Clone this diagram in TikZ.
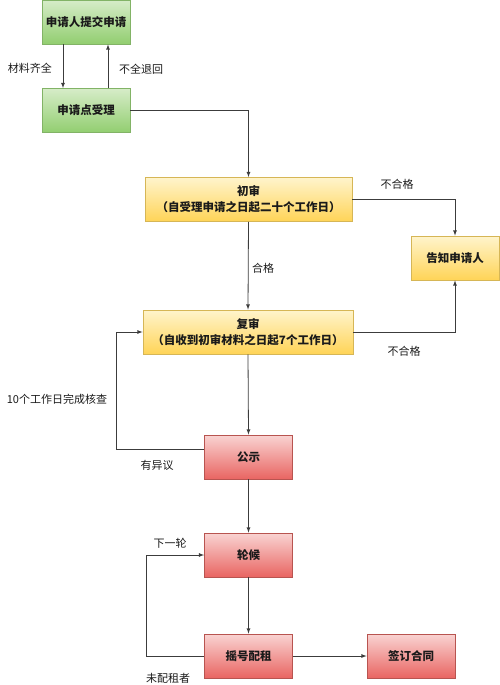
\documentclass[tikz,border=0pt]{standalone}
\usepackage{fontspec}
\setmainfont{Noto Sans CJK SC}
\usetikzlibrary{arrows, positioning}
\definecolor{linegray}{HTML}{3C3C3C}
\definecolor{txt}{HTML}{1A1A1A}
\definecolor{greentop}{HTML}{D6ECC8}
\definecolor{greenbot}{HTML}{92CE70}
\definecolor{greenline}{HTML}{82B366}
\definecolor{yellowtop}{HTML}{FFF4CC}
\definecolor{yellowbot}{HTML}{FFD457}
\definecolor{yellowline}{HTML}{D6B656}
\definecolor{redtop}{HTML}{F9D3D2}
\definecolor{redbot}{HTML}{E96562}
\definecolor{redline}{HTML}{B85450}
\tikzset{
  box/.style={draw, line width=0.8pt, minimum width=88pt, minimum height=44pt,
    inner sep=1pt, align=center, text=txt,
    font=\fontsize{11.5}{16}\selectfont\bfseries},
  greenbox/.style={box, draw=greenline, top color=greentop, bottom color=greenbot},
  yellowbox/.style={box, draw=yellowline, top color=yellowtop, bottom color=yellowbot},
  redbox/.style={box, draw=redline, top color=redtop, bottom color=redbot},
  flow/.style={->, >=latex, draw=linegray, line width=0.8pt},
  tag/.style={text=txt, font=\fontsize{11}{13}\selectfont}
}

\begin{document}
\begin{tikzpicture}[x=1pt, y=-1pt]
\useasboundingbox (0,0) rectangle (500,685);

% Application (green boxes)
\node[greenbox] (apply) at (86,22) {申请人提交申请};
\node[greenbox] (accept) at (86,110.5) {申请点受理};

% Review (yellow boxes)
\node[yellowbox, minimum width=207pt] (first) at (248.5,199.5) {初审\\（自受理申请之日起二十个工作日）};
\node[yellowbox] (notify) at (455,258) {告知申请人};
\node[yellowbox, minimum width=210pt] (second) at (248,332) {复审\\（自收到初审材料之日起7个工作日）};

% Publicity and allocation (red boxes)
\node[redbox] (publish) at (248.5,457) {公示};
\node[redbox] (wait) at (248.5,555) {轮候};
\node[redbox] (lottery) at (248.5,656) {摇号配租};
\node[redbox] (sign) at (411,656) {签订合同};

% Connectors
\draw[flow] ([xshift=-23pt]apply.south) -- ([xshift=-23pt]accept.north);
\draw[flow] ([xshift=22pt]accept.north) -- ([xshift=22pt]apply.south);
\draw[flow] (accept.east) -| (first.north);
\draw[flow] (first.east) -| (notify.north);
\draw[flow] (first.south) -- (second.north);
\draw[flow] (second.east) -| (notify.south);
\draw[flow] (second.south) -- (publish.north);
\draw[flow] ([yshift=8pt]publish.west) -- ++(-88,0) |- (second.west);
\draw[flow] (publish.south) -- (wait.north);
\draw[flow] (wait.south) -- (lottery.north);
\draw[flow] (lottery.east) -- (sign.west);
\draw[flow] (lottery.west) -- ++(-58,0) |- (wait.west);

% Labels
\node[tag] (lblfull) at (30,68) {材料齐全};
\node[tag] (lblback) at (141,69) {不全退回};
\node[tag] (lblfail1) at (397,184) {不合格};
\node[tag] (lblpass) at (263,268) {合格};
\node[tag] (lblfail2) at (404,351) {不合格};
\node[tag] (lblcheck) at (57,399) {10个工作日完成核查};
\node[tag] (lblobject) at (157,465) {有异议};
\node[tag] (lblnext) at (170,543) {下一轮};
\node[tag] (lblnone) at (168,678) {未配租者};

\end{tikzpicture}
\end{document}
